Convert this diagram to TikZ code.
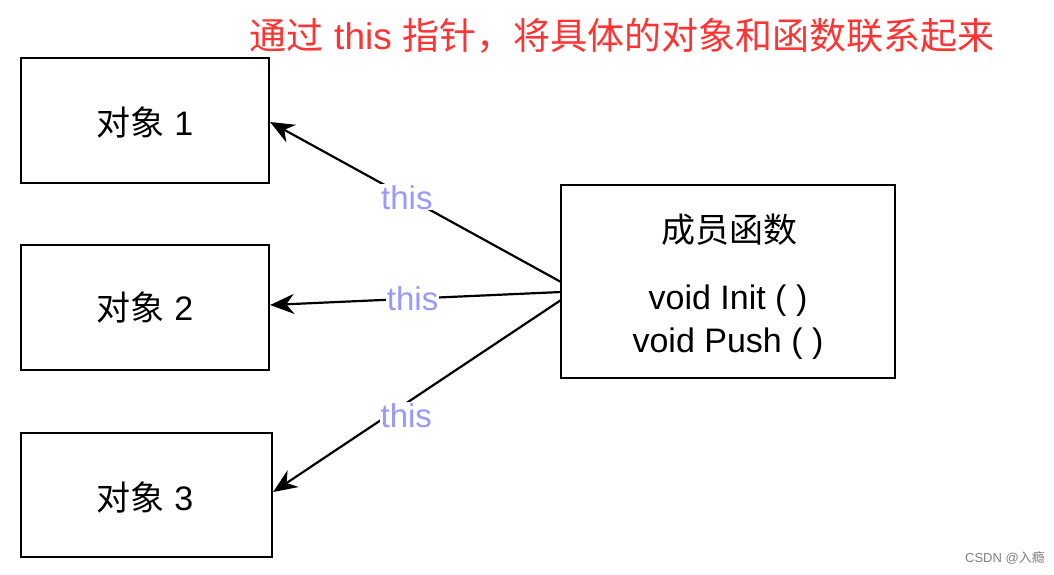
\documentclass[tikz,border=0pt]{standalone}
\usepackage{fontspec}
\setmainfont{Liberation Sans}
\newfontfamily\cjk{Noto Sans CJK SC}
\usetikzlibrary{arrows.meta}
\begin{document}
\begin{tikzpicture}[x=1pt,y=-1pt,
  box/.style={draw,line width=2.2pt,inner sep=0pt},
  conn/.style={line width=2.2pt,-{Stealth[length=24pt,width=20pt]}},
  lab/.style={fill=white,inner sep=1pt,text=blue!40!white,font=\fontsize{33}{36}\selectfont},
  txt/.style={font=\fontsize{34}{40}\selectfont}]
\useasboundingbox[fill=white] (0,0) rectangle (1054,574);
\node[box,minimum width=248pt,minimum height=125pt] (o1) at (145,120.5) {};
\node[box,minimum width=248pt,minimum height=125pt] (o2) at (145,307.5) {};
\node[box,minimum width=251pt,minimum height=124pt] (o3) at (146.5,495) {};
\node[txt] (t1) at (145,122) {{\cjk 对象} 1};
\node[txt] (t2) at (145,307) {{\cjk 对象} 2};
\node[txt] (t3) at (145,497) {{\cjk 对象} 3};
\node[box,minimum width=334pt,minimum height=193pt] (m) at (728,281.5) {};
\node[txt] (mt) at (729,230) {\cjk 成员函数};
\node[txt,align=center] (mf) at (728,322) {void Init ( )\\[3pt]void Push ( )};
\coordinate (a1) at (561,282);
\coordinate (a2) at (561,292);
\coordinate (a3) at (561,300);
\draw[conn] (a1) -- (o1.east |- 0,122) node[lab,pos=0.53] (l1) {this};
\draw[conn] (a2) -- (o2.east |- 0,305) node[lab,pos=0.51] (l2) {this};
\draw[conn] (a3) -- (o3.east |- 0,492) node[lab,pos=0.6,xshift=18pt] (l3) {this};
\node[text=red!80!white,font=\fontsize{37}{42}\selectfont] (title) at (622,36) {{\cjk 通过} this {\cjk 指针，将具体的对象和函数联系起来}};
\node[text=gray,font=\fontsize{13}{15}\selectfont] (wm) at (1005,558) {CSDN @{\cjk 入瘾}};
\end{tikzpicture}
\end{document}
